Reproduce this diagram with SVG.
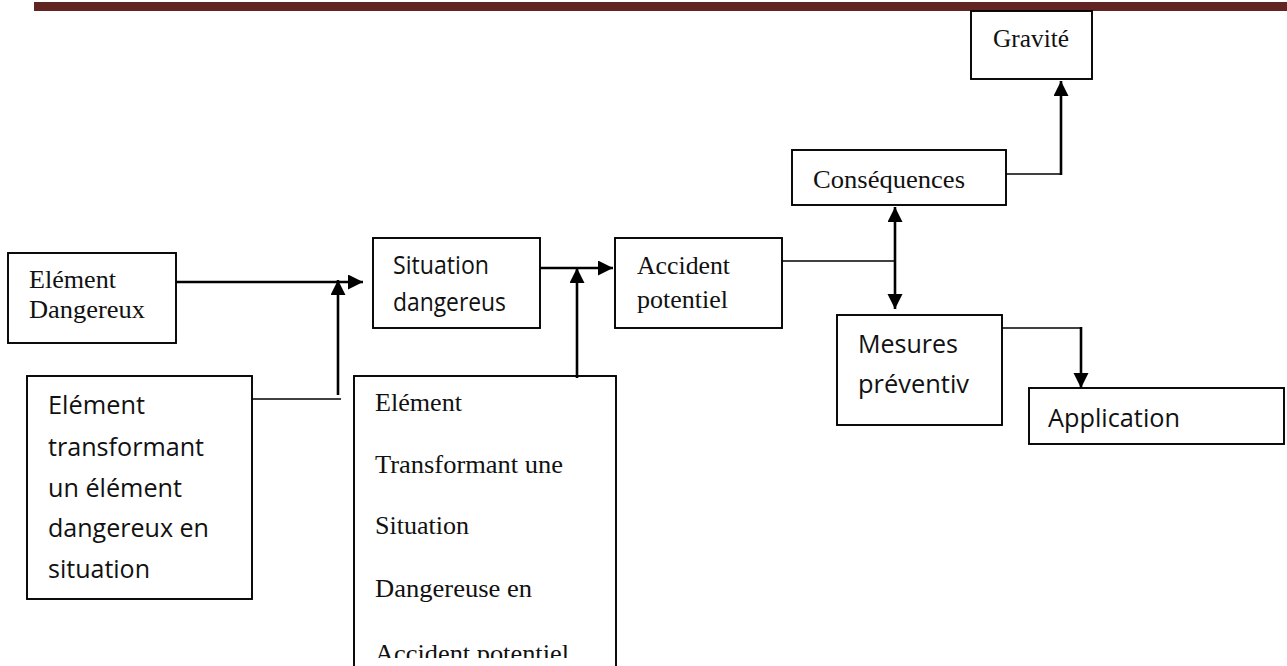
<svg xmlns="http://www.w3.org/2000/svg" width="1287" height="666" viewBox="0 0 1287 666">
  <style>
    .box { fill: #ffffff; stroke: #000000; stroke-width: 1.9; }
    .serif { font-family: "Liberation Serif", "Times New Roman", serif; font-size: 25px; fill: #111111; }
    .sans { font-family: "Open Sans", "Liberation Sans", sans-serif; font-size: 26px; fill: #111111; }
    .thick { fill: none; stroke: #000000; stroke-width: 2.6; }
    .thin { fill: none; stroke: #000000; stroke-width: 1.6; }
    .arrow { marker-end: url(#head); }
  </style>
  <defs>
    <marker id="head" markerUnits="userSpaceOnUse" markerWidth="16" markerHeight="16" refX="15" refY="7.5" orient="auto">
      <path d="M0,0 L15,7.5 L0,15 z" fill="#000000"/>
    </marker>
    <clipPath id="pageBottom">
      <rect x="0" y="0" width="1287" height="658"/>
    </clipPath>
  </defs>

  <!-- page header rule -->
  <rect id="header-rule" x="34" y="2" width="1253" height="9" fill="#622423"/>

  <!-- nodes -->
  <g id="element-dangereux">
    <rect class="box" x="8" y="253" width="168" height="90"/>
    <text class="serif" x="29" y="288" textLength="87" lengthAdjust="spacingAndGlyphs">Elément</text>
    <text class="serif" x="29" y="318" textLength="116" lengthAdjust="spacingAndGlyphs">Dangereux</text>
  </g>

  <g id="element-transformant">
    <rect class="box" x="27" y="376" width="225" height="223"/>
    <text class="sans" x="48" y="414" textLength="97" lengthAdjust="spacingAndGlyphs">Elément</text>
    <text class="sans" x="48" y="456" textLength="156" lengthAdjust="spacingAndGlyphs">transformant</text>
    <text class="sans" x="48" y="497" textLength="134" lengthAdjust="spacingAndGlyphs">un élément</text>
    <text class="sans" x="48" y="537" textLength="161" lengthAdjust="spacingAndGlyphs">dangereux en</text>
    <text class="sans" x="48" y="578" textLength="102" lengthAdjust="spacingAndGlyphs">situation</text>
  </g>

  <g id="situation-dangereuse">
    <rect class="box" x="373" y="238" width="167" height="90"/>
    <text class="sans" x="393" y="274" textLength="96" lengthAdjust="spacingAndGlyphs">Situation</text>
    <text class="sans" x="393" y="311" textLength="113" lengthAdjust="spacingAndGlyphs">dangereus</text>
  </g>

  <g id="element-transformant-situation">
    <rect class="box" x="354" y="376" width="262" height="300"/>
    <text class="serif" x="375" y="411" textLength="87" lengthAdjust="spacingAndGlyphs">Elément</text>
    <text class="serif" x="375" y="473" textLength="188" lengthAdjust="spacingAndGlyphs">Transformant une</text>
    <text class="serif" x="375" y="534" textLength="94" lengthAdjust="spacingAndGlyphs">Situation</text>
    <text class="serif" x="375" y="597" textLength="157" lengthAdjust="spacingAndGlyphs">Dangereuse en</text>
    <text class="serif" x="375" y="662" textLength="194" lengthAdjust="spacingAndGlyphs" clip-path="url(#pageBottom)">Accident potentiel</text>
  </g>

  <g id="accident-potentiel">
    <rect class="box" x="615" y="238" width="167" height="90"/>
    <text class="serif" x="637" y="274" textLength="93" lengthAdjust="spacingAndGlyphs">Accident</text>
    <text class="serif" x="637" y="308" textLength="91" lengthAdjust="spacingAndGlyphs">potentiel</text>
  </g>

  <g id="consequences">
    <rect class="box" x="792" y="150" width="214" height="55"/>
    <text class="serif" x="813" y="188" font-size="23" textLength="152" lengthAdjust="spacingAndGlyphs">Conséquences</text>
  </g>

  <g id="gravite">
    <rect class="box" x="971" y="11" width="121" height="68"/>
    <text class="serif" x="993" y="47" font-size="23" textLength="76" lengthAdjust="spacingAndGlyphs">Gravité</text>
  </g>

  <g id="mesures-preventives">
    <rect class="box" x="837" y="315" width="165" height="110"/>
    <text class="sans" x="858" y="353" textLength="100" lengthAdjust="spacingAndGlyphs">Mesures</text>
    <text class="sans" x="858" y="393" textLength="111" lengthAdjust="spacingAndGlyphs">préventiv</text>
  </g>

  <g id="application">
    <rect class="box" x="1029" y="388" width="255" height="56"/>
    <text class="sans" x="1048" y="427" textLength="132" lengthAdjust="spacingAndGlyphs">Application</text>
  </g>

  <!-- connectors -->
  <g id="connectors">
    <line class="thick arrow" x1="176" y1="282" x2="363" y2="282"/>
    <line class="thin" x1="252" y1="399" x2="341" y2="399"/>
    <line class="thick arrow" x1="338" y1="395" x2="338" y2="280"/>
    <line class="thick arrow" x1="540" y1="268" x2="613" y2="268"/>
    <line class="thick arrow" x1="577" y1="378" x2="577" y2="268"/>
    <line class="thin" x1="782" y1="261" x2="895" y2="261"/>
    <line class="thick arrow" x1="895" y1="261" x2="895" y2="207"/>
    <line class="thick arrow" x1="895" y1="261" x2="895" y2="309"/>
    <line class="thin" x1="1006" y1="174" x2="1061" y2="174"/>
    <line class="thick arrow" x1="1061" y1="175" x2="1061" y2="81"/>
    <line class="thin" x1="1002" y1="328" x2="1081" y2="328"/>
    <line class="thick arrow" x1="1081" y1="327" x2="1081" y2="388"/>
  </g>
</svg>
